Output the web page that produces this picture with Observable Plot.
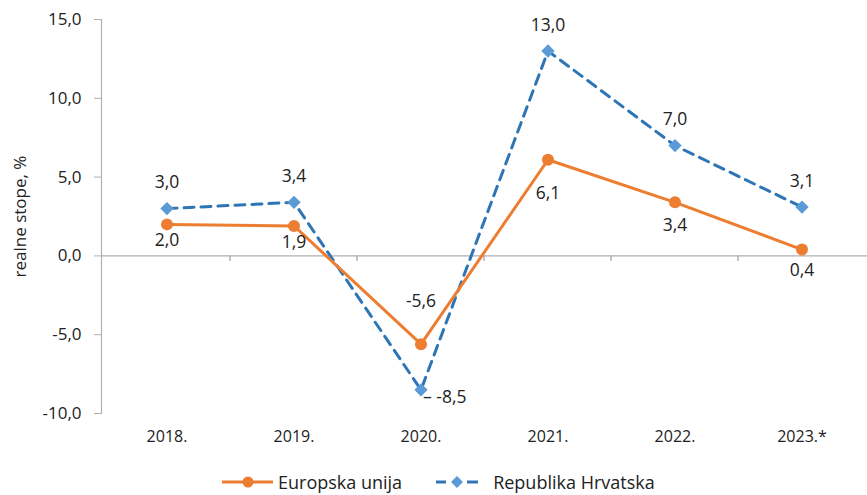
<!DOCTYPE html>
<html><head><meta charset="utf-8">
<script src="https://cdn.jsdelivr.net/npm/d3@7"></script>
<script src="https://cdn.jsdelivr.net/npm/@observablehq/plot@0.6"></script>
<style>
body{margin:0;background:#fff;font-family:"Open Sans",sans-serif;}
#wrap{position:relative;width:867px;height:495px;}
#legend{position:absolute;left:222px;top:470px;height:24px;display:flex;align-items:center;font-size:18px;color:#222;white-space:nowrap;}
#legend svg{display:block;}
</style></head>
<body><div id="wrap"><div id="chart"></div>
<div id="legend">
<svg width="56" height="16"><line x1="0" y1="8" x2="51" y2="8" stroke="#ED7D31" stroke-width="3"/><circle cx="26" cy="8" r="5.5" fill="#ED7D31"/></svg><span>Europska unija</span>
<svg width="56" height="16" style="margin-left:34px"><line x1="0" y1="8" x2="10" y2="8" stroke="#2E75B6" stroke-width="3"/><line x1="31" y1="8" x2="42" y2="8" stroke="#2E75B6" stroke-width="3"/><path d="M21,2 L27,8 L21,14 L15,8Z" fill="#5B9BD5"/></svg><span style="margin-left:1px">Republika Hrvatska</span>
</div></div>
<script>
const years = ["2018.","2019.","2020.","2021.","2022.","2023.*"];
const eu = [2.0, 1.9, -5.6, 6.1, 3.4, 0.4];
const hr = [3.0, 3.4, -8.5, 13.0, 7.0, 3.1];
const yTicks = [-10, -5, 0, 5, 10, 15];

const fmt = v => v.toFixed(1).replace(".", ",");
const euData = years.map((y,i)=>({year:y, v:eu[i], i}));
const hrData = years.map((y,i)=>({year:y, v:hr[i], i}));
const hrMin = d3.min(hr);
const font = "Open Sans, sans-serif";
// label vertical offsets (pixels) for the EU series, chosen to avoid the lines
const euDy = [16, 16, -43, 34, 23, 21];
const boundaryTicks = years.slice(1).map(y => ({year: y, a: 0, b: -0.35}));

const plot = Plot.plot({
  width: 867, height: 455,
  marginLeft: 101, marginRight: 0, marginTop: 19, marginBottom: 42,
  style: {fontFamily: font, fontSize: "16px", color: "#222", background: "white"},
  x: {type: "band", domain: years, label: null, padding: 0},
  y: {domain: [-10, 15], ticks: yTicks, label: null},
  marks: [
    Plot.ruleY([0], {stroke: "#b0b0b0", strokeWidth: 1.2}),
    Plot.ruleX(boundaryTicks, {x: "year", dx: -64, y1: "a", y2: "b", stroke: "#a0a0a0", strokeWidth: 1.2}),
    Plot.frame({anchor: "left", stroke: "#b0b0b0", strokeWidth: 1.2}),
    Plot.axisY({ticks: yTicks, tickFormat: fmt, tickSize: 7, tickPadding: 13, stroke: "#b0b0b0", fontSize: 17, label: null}),
    Plot.axisY({ticks: [], label: "realne stope, %", labelAnchor: "center", labelArrow: "none", labelOffset: 88, fontSize: 17}),
    Plot.axisX({tickSize: 0, tickPadding: 17, fontSize: 16, label: null}),
    Plot.line(hrData, {x: "year", y: "v", stroke: "#2E75B6", strokeWidth: 3, strokeDasharray: "10,7"}),
    Plot.dot(hrData, {x: "year", y: "v", symbol: "diamond2", r: 6, fill: "#5B9BD5"}),
    Plot.line(euData, {x: "year", y: "v", stroke: "#ED7D31", strokeWidth: 3}),
    Plot.dot(euData, {x: "year", y: "v", r: 6, fill: "#ED7D31"}),
    ...euData.map((d, i) => Plot.text([d], {x: "year", y: "v", text: e => fmt(e.v), dy: euDy[i], fontSize: 17.5, fill: "#222"})),
    // HR labels: above, minimum to the right
    Plot.text(hrData.filter(d=>d.v!==hrMin), {x:"year", y:"v", text: d=>fmt(d.v), dy: -26, fontSize: 17.5, fill:"#222"}),
    Plot.text(hrData.filter(d=>d.v===hrMin), {x:"year", y:"v", text: d=>"– "+fmt(d.v), dx: 2, dy: 8, textAnchor:"start", fontSize: 17.5, fill:"#222"})
  ]
});
document.getElementById("chart").appendChild(plot);
</script></body></html>
